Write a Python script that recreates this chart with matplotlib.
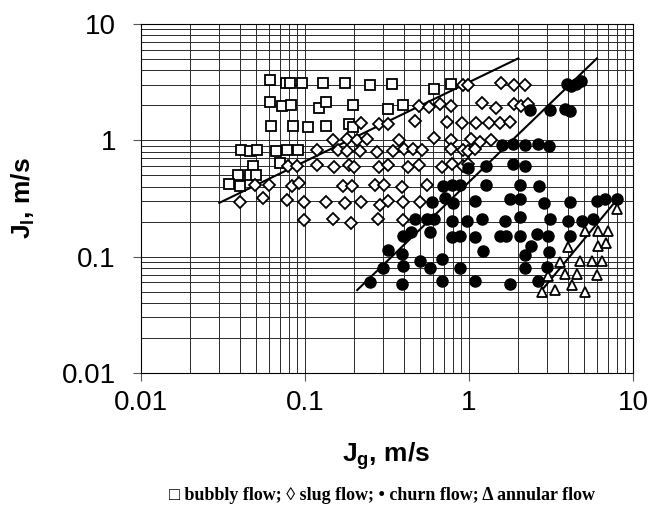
import matplotlib
matplotlib.use("Agg")
import matplotlib.pyplot as plt
from matplotlib.ticker import LogLocator, FixedLocator, FixedFormatter

# bubbly flow (open squares)
bubbly_jg = [0.061, 0.077, 0.081, 0.096, 0.129, 0.175, 0.249, 0.338, 0.614, 0.773,
             0.061, 0.072, 0.082, 0.121, 0.134, 0.197, 0.319, 0.394,
             0.062, 0.084, 0.105, 0.134, 0.186, 0.195,
             0.041, 0.046, 0.051, 0.067, 0.078, 0.091,
             0.070, 0.048, 0.039, 0.046, 0.050, 0.0345, 0.040]
bubbly_jl = [3.28, 3.09, 3.09, 3.09, 3.13, 3.09, 2.97, 3.03, 2.78, 3.03,
             2.13, 1.97, 2.01, 1.91, 2.13, 2.01, 1.85, 2.01,
             1.33, 1.33, 1.29, 1.33, 1.37, 1.29,
             0.82, 0.81, 0.82, 0.81, 0.82, 0.82,
             0.64, 0.60, 0.50, 0.50, 0.50, 0.42, 0.405]

# slug flow (open diamonds)
slug_jg = [0.915, 0.99, 1.56, 1.886, 2.195,
           0.498, 0.573, 0.666, 0.776, 1.205, 1.461, 1.886, 2.074, 2.30,
           0.220, 0.283, 0.3185, 0.4685, 0.731, 0.903, 1.098, 1.33, 1.545, 1.78,
           0.1475, 0.180, 0.208, 0.238, 0.373, 0.614, 0.776, 1.028, 1.167, 1.356,
           0.119, 0.160, 0.180, 0.2165, 0.274, 0.3425, 0.4015, 0.457, 0.519, 0.773, 0.915, 0.982, 1.088,
           0.079, 0.0898, 0.119, 0.151, 0.1855, 0.199, 0.284, 0.322, 0.426, 0.498, 0.687, 0.784, 0.923, 0.99,
           0.0496, 0.0606, 0.083, 0.0919, 0.170, 0.193, 0.267, 0.3045, 0.392, 0.557,
           0.0402, 0.0552, 0.078, 0.099, 0.134, 0.175, 0.218, 0.287, 0.322, 0.394, 0.503,
           0.099, 0.1475, 0.190, 0.2775, 0.394]
slug_jl = [2.99, 2.99, 3.09, 2.99, 2.99,
           1.97, 1.93, 2.04, 1.97, 2.11, 1.91, 2.04, 1.97, 2.07,
           1.42, 1.39, 1.39, 1.47, 1.437, 1.40, 1.40, 1.40, 1.40, 1.437,
           1.0, 1.02, 1.0, 1.02, 1.0, 1.04, 1.006, 1.034, 0.967, 1.006,
           0.825, 0.825, 0.809, 0.809, 0.793, 0.809, 0.837, 0.837, 0.825, 0.837, 0.825, 0.809, 0.837,
           0.601, 0.601, 0.610, 0.594, 0.610, 0.594, 0.594, 0.610, 0.594, 0.610, 0.594, 0.622, 0.601, 0.622,
           0.41, 0.417, 0.405, 0.433, 0.405, 0.405, 0.41, 0.41, 0.40, 0.41,
           0.295, 0.322, 0.307, 0.295, 0.295, 0.292, 0.295, 0.278, 0.302, 0.295, 0.295,
           0.205, 0.212, 0.193, 0.209, 0.205]

# churn flow (filled circles)
churn_jg = [3.95, 4.2, 4.5, 4.85,
            2.37, 3.14, 3.85, 4.11,
            1.583, 1.86, 2.195, 2.645, 3.09,
            0.99, 1.27, 1.86, 2.195,
            0.697, 0.784, 0.881, 1.27, 2.06, 2.68,
            0.592, 0.714, 0.802, 1.088, 1.78, 2.06, 2.867, 4.11, 6.0, 6.75, 8.03,
            0.4685, 0.552, 0.614, 0.784, 0.976, 1.195, 1.66, 2.06, 3.14, 4.03, 4.89, 5.73,
            0.394, 0.441, 0.578, 0.784, 0.881, 1.088, 1.545, 1.68, 2.06, 2.58, 3.045, 4.11,
            0.3185, 0.389, 1.21, 2.195, 2.38, 3.09,
            0.30, 0.398, 0.503, 0.578, 0.681, 0.881, 2.195, 2.98,
            0.249, 0.389, 0.681, 1.088, 1.78, 2.645]
churn_jl = [3.05, 2.95, 3.05, 3.25,
            1.82, 1.82, 1.85, 1.79,
            0.906, 0.924, 0.906, 0.924, 0.893,
            0.583, 0.601, 0.622, 0.601,
            0.405, 0.41, 0.417, 0.41, 0.41, 0.405,
            0.295, 0.322, 0.288, 0.302, 0.311, 0.316, 0.288, 0.295, 0.302, 0.311, 0.311,
            0.209, 0.212, 0.212, 0.202, 0.202, 0.212, 0.202, 0.221, 0.212, 0.202, 0.202, 0.209,
            0.152, 0.163, 0.163, 0.149, 0.152, 0.149, 0.152, 0.152, 0.152, 0.156, 0.152, 0.152,
            0.115, 0.105, 0.112, 0.103, 0.123, 0.110,
            0.0805, 0.083, 0.0918, 0.0805, 0.0963, 0.0805, 0.0805, 0.082,
            0.0606, 0.058, 0.0618, 0.0618, 0.058, 0.0618]

# annular flow (open triangles)
annular_jg = [8.03, 5.1, 6.15, 7.0, 4.03, 6.15, 6.85, 3.59, 4.73, 5.59, 6.45,
              3.05, 3.85, 4.58, 6.0, 4.24, 2.78, 3.35, 5.08]
annular_jl = [0.259, 0.165, 0.165, 0.165, 0.12, 0.123, 0.131, 0.09, 0.091, 0.091, 0.091,
              0.0685, 0.071, 0.071, 0.069, 0.0568, 0.050, 0.052, 0.050]

# transition boundaries
bound1_jg = [0.03, 2.0]
bound1_jl = [0.29, 5.07]
bound2_jg = [0.208, 6.03]
bound2_jl = [0.0516, 5.07]
bound3_jg = [2.71, 8.2]
bound3_jl = [0.0493, 0.324]

ticks = [0.01, 0.1, 1, 10]
tick_labels = ["0.01", "0.1", "1", "10"]

plt.rcParams['font.family'] = ['Liberation Sans', 'DejaVu Sans']

fig = plt.figure(figsize=(6.66, 5.29), dpi=100)
ax = fig.add_axes([141/666, 1 - 373/529, 492/666, 349/529])
ax.set_xscale('log')
ax.set_yscale('log')
ax.set_xlim(0.01, 10)
ax.set_ylim(0.01, 10)

ax.xaxis.set_major_locator(FixedLocator(ticks))
ax.xaxis.set_major_formatter(FixedFormatter(tick_labels))
ax.yaxis.set_major_locator(FixedLocator(ticks))
ax.yaxis.set_major_formatter(FixedFormatter(tick_labels))
ax.xaxis.set_minor_locator(LogLocator(base=10, subs=range(2, 10)))
ax.yaxis.set_minor_locator(LogLocator(base=10, subs=range(2, 10)))

ax.grid(True, which='both', color='#2a2a2a', linewidth=0.7)
ax.set_axisbelow(True)
ax.tick_params(which='major', direction='out', length=6, width=0.8,
               labelsize=20, color='#555555')
ax.tick_params(axis='x', which='major', pad=6)
ax.tick_params(axis='y', which='major', pad=12)
ax.tick_params(which='minor', length=0)
for s in ax.spines.values():
    s.set_linewidth(0.8)

lk = dict(color='black', linewidth=1.5, zorder=3)
ax.plot(bound1_jg, bound1_jl, **lk)
ax.plot(bound2_jg, bound2_jl, **lk)
ax.plot(bound3_jg, bound3_jl, **lk)

ax.plot(bubbly_jg, bubbly_jl, linestyle='none', marker='s', markersize=7.8,
        markerfacecolor='white', markeredgecolor='black', markeredgewidth=1.3, zorder=4)
ax.plot(slug_jg, slug_jl, linestyle='none', marker='D', markersize=5.9,
        markerfacecolor='white', markeredgecolor='black', markeredgewidth=1.3, zorder=4)
ax.plot(churn_jg, churn_jl, linestyle='none', marker='o', markersize=8.0,
        markerfacecolor='black', markeredgecolor='black', zorder=5)
ax.plot(annular_jg, annular_jl, linestyle='none', marker='^', markersize=7.6,
        markerfacecolor='white', markeredgecolor='black', markeredgewidth=1.3, zorder=4)

fig.text(386/666, 1 - 456/529, r'J$_\mathregular{g}$, m/s', ha='center', va='center',
         fontsize=19, fontweight='bold')
fig.text(23/666, 1 - 198/529, r'J$_\mathregular{l}$, m/s', ha='center', va='center',
         rotation=90, fontsize=19, fontweight='bold')
fig.text(382/666, 1 - 495/529,
         '\u25a1 bubbly flow; \u25ca slug flow; \u2022 churn flow; \u0394 annular flow',
         ha='center', va='center', fontsize=13, fontweight='bold',
         family=['Liberation Serif', 'DejaVu Serif'])

fig.savefig('out.png', dpi=100)
